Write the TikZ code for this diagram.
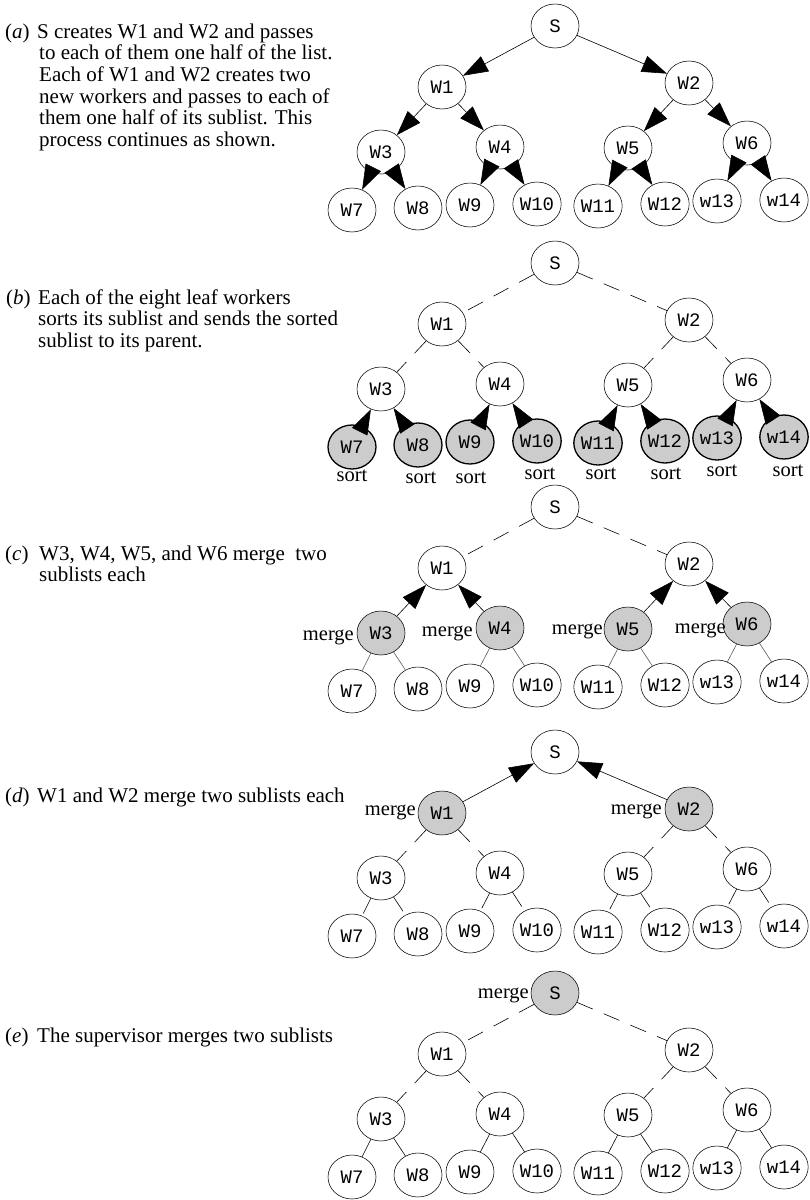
\documentclass[tikz,border=0pt]{standalone}
\usepackage{fontspec}
\setmainfont{Liberation Serif}
\setmonofont{Liberation Mono}
\usetikzlibrary{shapes.geometric,arrows.meta}
\tikzset{
  wk/.style={ellipse, draw, line width=0.55pt, minimum width=48pt, minimum height=44pt,
    inner sep=0pt, font=\ttfamily\fontsize{19}{19}\selectfont},
  gr/.style={fill=gray!40},
  grb/.style={fill=gray!40, line width=1.3pt},
  arr/.style={line width=0.6pt, -{Triangle[length=25pt,width=17pt]}},
  dsh/.style={line width=0.6pt, dash pattern=on 17pt off 12pt},
  sol/.style={line width=0.6pt},
  lgt/.style={line width=0.6pt, black!65},
  captxt/.style={anchor=base west, inner sep=0pt, font=\fontsize{21}{21.7}\selectfont},
  lbl/.style={anchor=base, inner sep=0pt, font=\fontsize{20.5}{21}\selectfont},
  lble/.style={anchor=base east, inner sep=0pt, font=\fontsize{20.5}{21}\selectfont},
  % highlighted nodes per panel
  bW7/.style={grb}, bW8/.style={grb}, bW9/.style={grb}, bW10/.style={grb},
  bW11/.style={grb}, bW12/.style={grb}, bW13/.style={grb}, bW14/.style={grb},
  cW3/.style={gr}, cW4/.style={gr}, cW5/.style={gr}, cW6/.style={gr},
  dW1/.style={gr}, dW2/.style={gr},
  eS/.style={gr},
}
\newcommand\mytree[2]{%
  \node[wk,#1S/.try]   (#1S)   at (555,26+#2)  {S};
  \node[wk,#1W1/.try]  (#1W1)  at (442,87+#2)  {W1};
  \node[wk,#1W2/.try]  (#1W2)  at (689,83+#2)  {W2};
  \node[wk,#1W3/.try]  (#1W3)  at (381,152+#2) {W3};
  \node[wk,#1W4/.try]  (#1W4)  at (500,147+#2) {W4};
  \node[wk,#1W5/.try]  (#1W5)  at (628,148+#2) {W5};
  \node[wk,#1W6/.try]  (#1W6)  at (747,143+#2) {W6};
  \node[wk,#1W7/.try]  (#1W7)  at (352,210+#2) {W7};
  \node[wk,#1W8/.try]  (#1W8)  at (418,208+#2) {W8};
  \node[wk,#1W9/.try]  (#1W9)  at (470,205+#2) {W9};
  \node[wk,#1W10/.try] (#1W10) at (537,204+#2) {W10};
  \node[wk,#1W11/.try] (#1W11) at (598,206+#2) {W11};
  \node[wk,#1W12/.try] (#1W12) at (665,204+#2) {W12};
  \node[wk,#1W13/.try] (#1W13) at (717,201+#2) {w13};
  \node[wk,#1W14/.try] (#1W14) at (784,200+#2) {w14};
}
\begin{document}
\begin{tikzpicture}[x=1pt,y=-1pt]
\useasboundingbox (0,0) rectangle (809,1200);

% ---------- trees ----------
\mytree{a}{0}
\mytree{b}{237}
\mytree{c}{481}
\mytree{d}{726}
\mytree{e}{967}

% ---------- panel (a) ----------
\foreach \u/\v in {S/W1,S/W2,W1/W3,W1/W4,W2/W5,W2/W6,W3/W7,W3/W8,W4/W9,W4/W10,W5/W11,W5/W12,W6/W13,W6/W14}
  \draw[arr] (a\u) -- (a\v);

% ---------- panel (b) ----------
\foreach \u/\v in {S/W1,S/W2,W1/W3,W1/W4,W2/W5,W2/W6}
  \draw[dsh] (b\u) -- (b\v);
\foreach \u/\v in {W3/W7,W3/W8,W4/W9,W4/W10,W5/W11,W5/W12,W6/W13,W6/W14}
  \draw[arr] (b\v) -- (b\u);

% ---------- panel (c) ----------
\foreach \u/\v in {S/W1,S/W2}
  \draw[dsh] (c\u) -- (c\v);
\foreach \u/\v in {W1/W3,W1/W4,W2/W5,W2/W6}
  \draw[arr] (c\v) -- (c\u);
\foreach \u/\v in {W3/W7,W3/W8,W4/W9,W4/W10,W5/W11,W5/W12,W6/W13,W6/W14}
  \draw[lgt] (c\u) -- (c\v);

% ---------- panel (d) ----------
\foreach \u/\v in {S/W1,S/W2}
  \draw[arr] (d\v) -- (d\u);
\foreach \u/\v in {W1/W3,W1/W4,W2/W5,W2/W6,W3/W7,W3/W8,W4/W9,W4/W10,W5/W11,W5/W12,W6/W13,W6/W14}
  \draw[dsh] (d\u) -- (d\v);

% ---------- panel (e) ----------
\foreach \u/\v in {S/W1,S/W2,W1/W3,W1/W4,W2/W5,W2/W6}
  \draw[dsh] (e\u) -- (e\v);
\foreach \u/\v in {W3/W7,W3/W8,W4/W9,W4/W10,W5/W11,W5/W12,W6/W13,W6/W14}
  \draw[sol] (e\u) -- (e\v);

% ---------- sort / merge labels ----------
\node[lbl] (s7)  at (352,481) {sort};
\node[lbl] (s8)  at (421,483) {sort};
\node[lbl] (s9)  at (471,483) {sort};
\node[lbl] (s10) at (540,479) {sort};
\node[lbl] (s11) at (601,479) {sort};
\node[lbl] (s12) at (666,479) {sort};
\node[lbl] (s13) at (722,476) {sort};
\node[lbl] (s14) at (788,476) {sort};

\node[lble] (mc3) at (354,640) {merge};
\node[lble] (mc4) at (473,636) {merge};
\node[lble] (mc5) at (603,634) {merge};
\node[lble] (mc6) at (726,633) {merge};
\node[lble] (md1) at (416,815) {merge};
\node[lble] (md2) at (662,814) {merge};
\node[lble] (me)  at (529,998) {merge};

% ---------- captions ----------
\node[captxt] (ta0) at (5,38) {(\textit{a})};
\node[captxt] (ta1) at (37,38) {S creates W1 and W2 and passes};
\node[captxt] (ta2) at (39,59.7) {to each of them one half of the list.};
\node[captxt] (ta3) at (39,81.4) {Each of W1 and W2 creates two};
\node[captxt] (ta4) at (39,103.1) {new workers and passes to each of};
\node[captxt] (ta5) at (39,124.8) {them one half of its sublist. This};
\node[captxt] (ta6) at (39,146.5) {process continues as shown.};

\node[captxt] (tb0) at (6,304) {(\textit{b})};
\node[captxt] (tb1) at (38,304) {Each of the eight leaf workers};
\node[captxt] (tb2) at (38,325.5) {sorts its sublist and sends the sorted};
\node[captxt] (tb3) at (38,347) {sublist to its parent.};

\node[captxt] (tc0) at (5,560) {(\textit{c})};
\node[captxt] (tc1) at (39,560) {W3, W4, W5, and W6 merge\ \ two};
\node[captxt] (tc2) at (39,581) {sublists each};

\node[captxt] (td0) at (5,802) {(\textit{d})};
\node[captxt] (td1) at (37,802) {W1 and W2 merge two sublists each};

\node[captxt] (te0) at (5,1042) {(\textit{e})};
\node[captxt] (te1) at (37,1042) {The supervisor merges two sublists};
\end{tikzpicture}
\end{document}
